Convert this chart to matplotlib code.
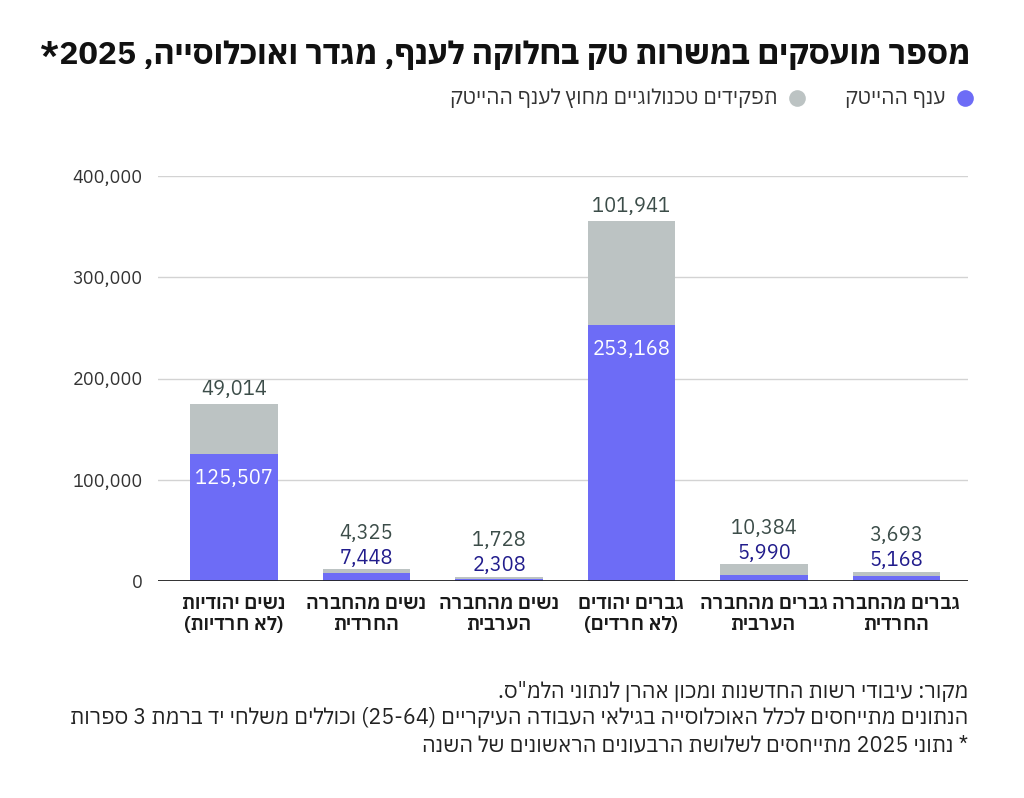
import re
import matplotlib
matplotlib.use('Agg')
import matplotlib.pyplot as plt
from matplotlib.lines import Line2D

FONT = ['IBM Plex Sans Hebrew', 'Liberation Sans', 'DejaVu Sans']
plt.rcParams['font.family'] = FONT


def rtl(s):
    # matplotlib has no bidi support: flip Hebrew to visual order, keep numbers LTR
    r = s[::-1]
    r = re.sub(r'[0-9][0-9,.\-]*[0-9]|[0-9]', lambda m: m.group(0)[::-1], r)
    return r.translate(str.maketrans('()', ')('))


# data (left to right as in the chart)
categories = ['נשים יהודיות\n(לא חרדיות)', 'נשים מהחברה\nהחרדית', 'נשים מהחברה\nהערבית',
              'גברים יהודים\n(לא חרדים)', 'גברים מהחברה\nהערבית', 'גברים מהחברה\nהחרדית']
hitech = [125507, 7448, 2308, 253168, 5990, 5168]
tech_outside = [49014, 4325, 1728, 101941, 10384, 3693]
yticks = [0, 100000, 200000, 300000, 400000]

title = 'מספר מועסקים במשרות טק בחלוקה לענף, מגדר ואוכלוסייה, 2025*'
legend_labels = ['ענף ההייטק', 'תפקידים טכנולוגיים מחוץ לענף ההייטק']
footer = ['מקור: עיבודי רשות החדשנות ומכון אהרן לנתוני הלמ"ס.',
          'הנתונים מתייחסים לכלל האוכלוסייה בגילאי העבודה העיקריים (25-64) וכוללים משלחי יד ברמת 3 ספרות',
          '* נתוני 2025 מתייחסים לשלושת הרבעונים הראשונים של השנה']

BLUE = '#6d6cf6'
GRAY = '#bcc3c3'
BLUE_TXT = '#211c8c'
GRAY_TXT = '#3c4d49'

fig = plt.figure(figsize=(10.24, 7.98), dpi=100)
ax = fig.add_axes([158 / 1024, 1 - 581 / 798, 810 / 1024, 405 / 798])

x = list(range(len(categories)))
ax.bar(x, hitech, width=0.66, color=BLUE, zorder=2)
ax.bar(x, tech_outside, bottom=hitech, width=0.66, color=GRAY, zorder=2)

ax.set_xlim(-0.574, 5.54)
ax.set_ylim(0, 400000)
ax.set_yticks(yticks)
ax.set_yticklabels([f'{v:,}' for v in yticks], fontsize=13, color='#333333')
ax.tick_params(axis='y', length=0, pad=11)
ax.set_xticks(x)
ax.set_xticklabels(['\n'.join(rtl(l) for l in c.split('\n')) for c in categories],
                   fontsize=14, fontweight='semibold', color='#1a1a1a', linespacing=1.2)
ax.tick_params(axis='x', length=0, pad=10)
ax.grid(axis='y', color='#d3d3d3', lw=1, zorder=0)
for s in ax.spines.values():
    s.set_visible(False)
ax.axhline(0, color='#222222', lw=1.3, zorder=3)

for i, (h, t) in enumerate(zip(hitech, tech_outside)):
    top = h + t
    if top > 100000:
        ax.annotate(f'{t:,}', (i, top), xytext=(0, 7), textcoords='offset points',
                    ha='center', va='baseline', fontsize=14.5, color=GRAY_TXT)
        ax.annotate(f'{h:,}', (i, h), xytext=(0, -11), textcoords='offset points',
                    ha='center', va='top', fontsize=14.5, color='white')
    else:
        ax.annotate(f'{h:,}', (i, top), xytext=(0, 4), textcoords='offset points',
                    ha='center', va='baseline', fontsize=14.5, color=BLUE_TXT)
        ax.annotate(f'{t:,}', (i, top), xytext=(0, 22), textcoords='offset points',
                    ha='center', va='baseline', fontsize=14.5, color=GRAY_TXT)

fig.text(970 / 1024, 1 - 55 / 798, rtl(title), ha='right', va='center',
         fontsize=23, fontweight='bold', color='#111111')

# legend drawn by hand (RTL order)
ly = 1 - 98 / 798
for cx, tx, col, lab in [(965, 946, BLUE, legend_labels[0]), (797, 778, GRAY, legend_labels[1])]:
    fig.add_artist(Line2D([cx / 1024], [ly], marker='o', ms=12, color=col, mec='none',
                          transform=fig.transFigure))
    fig.text(tx / 1024, ly, rtl(lab), ha='right', va='center', fontsize=15, color='#333333')

for k, line in enumerate(footer):
    fig.text(968 / 1024, 1 - (692 + 26.5 * k) / 798, rtl(line), ha='right', va='center',
             fontsize=15.5, color='#222222')

fig.savefig('out.png', dpi=100)
